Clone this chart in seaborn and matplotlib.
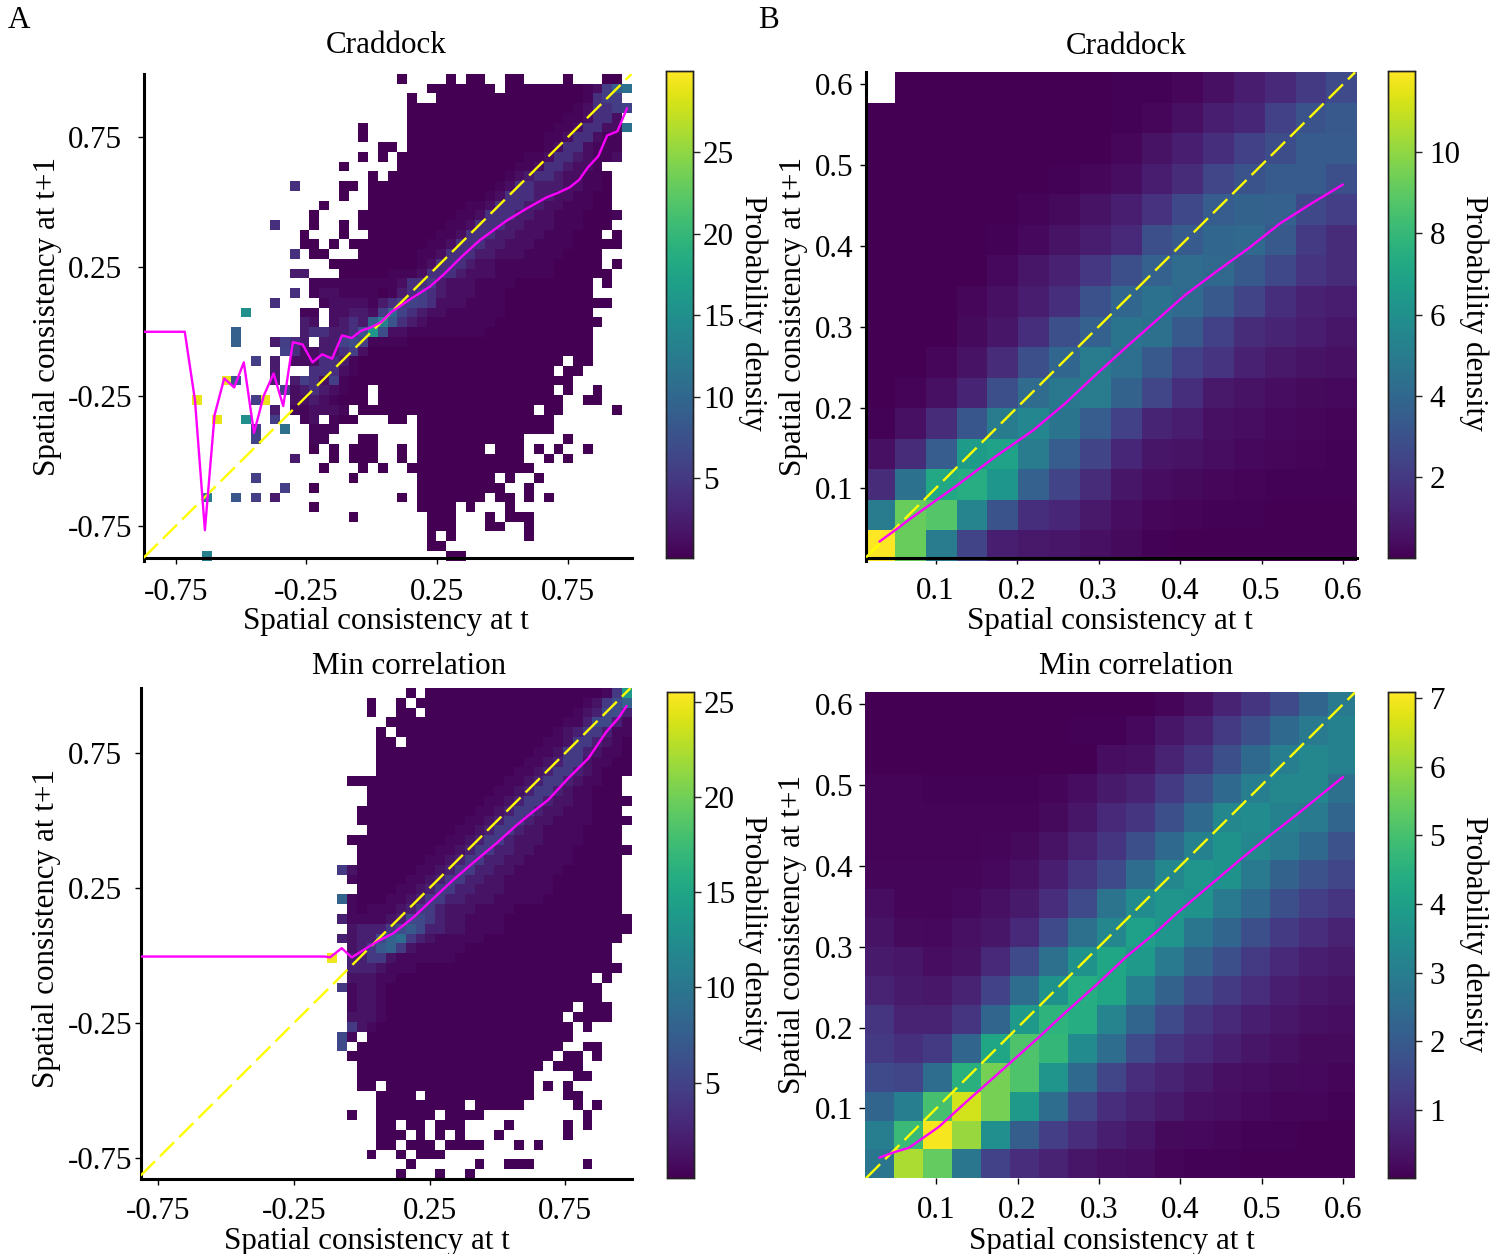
###IMPORTS###
import numpy as np
import seaborn as sns
import matplotlib
matplotlib.use('Agg')
import matplotlib.pyplot as plt

W, H = 1495, 1254

###DATA###
# one char per bin, base 36 density, '.' is an empty bin
craddock_all = [
    '.......... .......... ......0... .0.00..00. ...0...00.',
    '.......... .......... .........0 000000.000 000001259b',
    '.......... .......... .......0.. 0000000000 000001455.',
    '.......... .......... .......000 0000000000 0000124456',
    '.......... .......... .......000 0000000000 000112442.',
    '.......... .......... ..0....000 0000000000 001124422b',
    '.......... .......... ..0....000 0000000000 011244211.',
    '.......... .......... ....00.000 0000000000 012442111.',
    '.......... .......... ..0.0.0000 0000000001 124432112.',
    '.......... .......... 0.....0000 0000000011 2443221...',
    '.......... .......... ...0.00000 0000000123 44322110..',
    '.......... .....4.... 00.0000000 0000001244 33322110..',
    '.......... .......... 0..0000000 0000012444 33221100..',
    '.......... ........0. ...0000000 0001124443 32211100..',
    '.......... .......0.. ..00000000 0011244433 221110001.',
    '.......... ...4...0.. 0.00000000 0112444332 22111000..',
    '.......... ......0... 0..0000000 1124443322 2111000.0.',
    '.......... ......00.0 .000000001 1244433222 111100000.',
    '.......... .....4.00. ..00000011 2444332221 1110000...',
    '.......... .........0 0000000012 4443221111 1100000.0.',
    '.......... .....33... 0000011124 4432221111 11000000..',
    '.......... .......111 1111112445 3222111100 000000.0..',
    '.......... .....4.122 1111013454 3222111000 000000....',
    '.......... ...4....12 2221345654 2221111000 00000000..',
    '.......... f.....11.2 23325a6432 2111111000 000000....',
    '.......... ......32.2 3439d84321 1111110000 0000000...',
    '.........9 ......3443 348g722111 1111100000 000000....',
    '.........9 ...3543.33 6751111000 0000000000 000000....',
    '.......... ....642233 4520000000 0000000000 000000....',
    '.......... .5.3.22244 3100000000 0000000000 000.00....',
    '.......... ...3...444 2100000000 0000000000 00.00.....',
    '........t8 ...3.35425 1000000000 0000000000 0000......',
    '.......... ....523432 100.000000 0000000000 00.0..0...',
    '.....t.... .5t..22321 000.000000 0000000000 000..00...',
    '.......... ...3.11222 1.00000000 0000000000 .00.....0.',
    '.......t.. f..5..12.1 00...00.00 0000000000 00........',
    '.......... .5..b..111 ........00 0000000000 00........',
    '.......... .6.....11. ..00....00 000000000. ...0......',
    '.......... .......0.0 .000..0.00 00000.000. 0.0..0....',
    '.......... .....3...0 .000..0.00 000000000. .0.0......',
    '.......... ........0. ..0.0..000 0000000000 ..........',
    '.......... .5........ .0......00 000000.0.. 0.........',
    '.......... ....5..0.. ........00 0000000..0 ..........',
    '......d..8 .5.3...... ......0.00 00000.00.0 .0........',
    '.......... .......0.. ........00 00.0...0.. ..........',
    '.......... .......... .0.......0 00...0.000 ..........',
    '.......... .......... .........0 00...00..0 ..........',
    '.......... .......... .........0 .0.......0 ..........',
    '.......... .......... .........0 0......... ..........',
    '......d... .......... .......... .00....... ..........',
]

mincorr_all = [
    '.......... .......... .......0.0 0000000000 000000014e',
    '.......... .......... ...0..0.00 0000000000 0000012468',
    '.......... .......... ...0..00.0 0000000000 0000123563',
    '.......... .......... .....00000 0000000000 0001135531',
    '.......... .......... ....0.0000 0000000000 0012344311',
    '.......... .......... ....00.000 0000000000 0112443210',
    '.......... .......... ....000000 0000000000 1124432110',
    '.......... .......... ....000000 0000000001 1234421100',
    '.......... .......... ....000000 0000000011 2344321000',
    '.......... .......... .000000000 0000000112 344321100.',
    '.......... .......... ...0000000 0000001123 443211000.',
    '.......... .......... ...0000000 0000011234 4322110000',
    '.......... .......... ..00000000 0000112344 322111000.',
    '.......... .......... ..00000000 0001123443 2211110000',
    '.......... .......... ...0000000 0011234432 211110000.',
    '.......... .......... .000000000 0112344322 211110000.',
    '.......... .......... ..00000000 1123443322 1111000000',
    '.......... .......... ..00000001 1234433221 111100000.',
    '.......... .......... 4200000011 2344332211 111000000.',
    '.......... .......... .100000112 3443322111 110000000.',
    '.......... .......... ..00001123 4433222111 110000000.',
    '.......... .......... 8100011234 4332221111 100000000.',
    '.......... .......... .101112344 3222111100 000000000.',
    '.......... .......... 3111123554 3221111000 0000000000',
    '.......... .......... .233346753 3221111000 0000000000',
    '.......... .......... 3233589432 1111100000 000000000.',
    '.......... .......... .234784211 1110000000 00000000..',
    '.......... .........p .334421111 1100000000 00000000..',
    '.......... .......... .333211100 0000000000 000000000.',
    '.......... .......... .222110000 0000000000 000000.0..',
    '.......... .......... 4122100000 0000000000 0000000...',
    '.......... .......... .122100000 0000000000 0000000...',
    '.......... .......... .122100000 0000000000 0000.000..',
    '.......... .......... .222100000 0000000000 000.0000..',
    '.......... .......... .421000000 0000000000 0000.0....',
    '.......... .......... 51.0000000 0000000000 0000......',
    '.......... .......... 5.00000000 0000000000 000..00...',
    '.......... .......... .000000000 0000000000 00.00.0...',
    '.......... .......... ..00000000 0000000000 0.000.....',
    '.......... .......... ..00000000 0000000000 ....00....',
    '.......... .......... ..00.00000 0000000000 .0.0......',
    '.......... .......... ....0000.0 0000000000 ...00.....',
    '.......... .......... ....000000 000.00000. ....0.0...',
    '.......... .......... .0..000000 .0000..... .....0....',
    '.......... .......... ....00.00. 000....0.. ...0.0....',
    '.......... .......... ....000.0. 0.0...0... ...0......',
    '.......... .......... ....00.000 .0000...0. 0.........',
    '.......... .......... ...0..0.00 0......... ..........',
    '.......... .......... .......0.. ....0..000 .....0....',
    '.......... .......... ......0... 0..0...... ..........',
]

# low codes are not linear, the background is very flat
low_levels = {'0': 0.12, '1': 0.5, '2': 1.2, '3': 2.2, '4': 4.2, '5': 5.5}

craddock_zoom = [
    [np.nan, .05, .05, .05, .05, .05, .05, .05, .1, .1, .2, .5, .9, 1.4, 2.0, 2.7],
    [.03, .03, .03, .03, .03, .03, .05, .05, .1, .2, .5, 1.0, 1.3, 2.3, 3.1, 3.3],
    [.03, .03, .03, .03, .03, .03, .05, .05, .2, .6, 1.0, 1.6, 2.3, 2.8, 3.4, 3.4],
    [.03, .03, .03, .03, .03, .05, .1, .2, .4, .9, 1.5, 2.5, 3.1, 3.4, 3.4, 2.9],
    [.03, .03, .03, .03, .05, .15, .3, .6, 1.0, 1.7, 2.6, 3.5, 3.8, 3.7, 2.6, 2.2],
    [.03, .03, .03, .05, .1, .25, .6, .9, 1.4, 2.9, 3.4, 3.9, 4.0, 3.3, 2.0, 1.5],
    [.03, .03, .03, .05, .25, .7, 1.1, 1.9, 2.9, 3.7, 4.2, 4.0, 3.3, 2.6, 1.8, 1.5],
    [.03, .03, .05, .2, .5, .9, 1.6, 3.0, 3.9, 4.5, 4.1, 3.3, 2.4, 1.6, 1.1, .9],
    [.03, .03, .05, .3, .7, 1.6, 2.9, 3.7, 4.6, 4.4, 3.3, 2.3, 1.5, 1.2, .9, .7],
    [.03, .05, .2, .6, 1.5, 2.9, 3.9, 5.0, 4.3, 3.3, 2.3, 1.8, 1.1, .8, .6, .5],
    [.03, .15, .5, 1.2, 2.9, 4.2, 4.8, 5.0, 3.8, 2.5, 1.6, .8, .6, .4, .3, .25],
    [.1, .5, 1.5, 3.2, 5.0, 5.5, 4.6, 3.5, 2.3, 1.2, .9, .5, .4, .25, .2, .15],
    [.5, 1.5, 3.5, 6.6, 6.9, 5.0, 3.5, 2.4, 1.3, .7, .6, .4, .25, .2, .15, .1],
    [1.5, 4.5, 7.2, 7.5, 6.3, 3.7, 2.4, 1.5, .7, .4, .3, .2, .15, .1, .1, .1],
    [5.0, 9.2, 8.8, 5.4, 3.1, 1.6, 1.3, .8, .4, .2, .15, .1, .08, .05, .05, .05],
    [12.0, 9.2, 5.0, 2.4, 1.0, .8, .7, .5, .3, .1, .05, .05, .05, .05, .05, .05],
]

mincorr_zoom = [
    [.03, .03, .03, .03, .03, .03, .03, .03, .03, .03, .1, .3, .7, 1.1, 1.6, 2.3, 2.9],
    [.03, .03, .03, .03, .03, .03, .03, .04, .05, .15, .4, .7, 1.2, 1.7, 2.4, 2.9, 3.1],
    [.03, .03, .03, .03, .03, .03, .03, .03, .25, .3, .7, 1.1, 1.7, 2.4, 3.0, 3.3, 3.1],
    [.08, .08, .05, .05, .05, .05, .1, .25, .5, .7, 1.2, 1.8, 2.4, 3.0, 3.3, 3.3, 2.6],
    [.07, .07, .07, .07, .07, .08, .2, .4, .8, 1.1, 1.7, 2.4, 3.3, 3.4, 3.1, 2.9, 2.3],
    [.08, .08, .08, .08, .1, .2, .35, .7, 1.1, 1.7, 2.4, 3.1, 3.6, 3.3, 2.9, 2.4, 1.8],
    [.1, .1, .1, .1, .15, .3, .6, 1.1, 1.6, 2.5, 3.3, 3.7, 3.6, 2.9, 2.2, 1.8, 1.5],
    [.25, .1, .1, .15, .3, .5, .9, 1.6, 2.7, 3.4, 3.7, 3.6, 2.9, 2.4, 1.7, 1.3, 1.1],
    [.35, .2, .15, .3, .4, .8, 1.6, 2.6, 3.3, 4.0, 3.7, 2.8, 2.3, 1.7, 1.2, .9, .7],
    [.5, .4, .25, .35, .8, 1.6, 2.6, 3.6, 4.2, 3.8, 2.9, 2.2, 1.7, 1.2, .8, .6, .5],
    [.7, .5, .45, .7, 1.4, 2.5, 3.6, 4.4, 4.2, 3.0, 2.2, 1.6, 1.2, .9, .6, .45, .35],
    [1.1, .7, .7, 1.1, 2.3, 3.8, 4.6, 4.4, 3.2, 2.3, 1.6, 1.1, .8, .6, .45, .3, .25],
    [1.2, 1.0, 1.2, 2.3, 4.2, 5.1, 4.7, 3.4, 2.5, 1.6, 1.1, .8, .6, .4, .3, .2, .2],
    [1.6, 1.5, 2.5, 4.5, 5.6, 5.1, 3.7, 2.4, 1.5, .9, .7, .5, .3, .25, .2, .15, .1],
    [2.3, 3.0, 5.0, 6.6, 5.6, 3.8, 2.5, 1.5, .9, .7, .5, .3, .25, .15, .1, .1, .05],
    [3.0, 4.8, 7.0, 6.0, 3.5, 2.1, 1.3, .9, .6, .4, .2, .15, .1, .05, .05, .03, .03],
    [2.8, 6.2, 5.4, 2.8, 1.4, .9, .7, .4, .3, .25, .1, .05, .05, .03, .03, .03, .03],
]

# conditional mean lines
line_a1_x = [-.875, -.716, -.677, -.639, -.602, -.565, -.527, -.490, -.451, -.414, -.376, -.339, -.302, -.265, -.227, -.190, -.152, -.114, -.077, -.041, -.003, .034, .076, .152, .222, .273, .344, .414, .516, .593, .669, .714, .758, .793, .829, .867, .901, .940, .977]
line_a1_y = [-.001, -.001, -.265, -.767, -.323, -.181, -.216, -.119, -.391, -.249, -.162, -.288, -.041, -.050, -.119, -.088, -.105, -.015, -.025, .003, .016, .035, .076, .128, .173, .218, .289, .353, .428, .475, .518, .536, .557, .585, .636, .677, .757, .773, .862]
line_a2_x = [-.815, -.136, -.117, -.074, -.037, .036, .067, .116, .190, .251, .337, .423, .497, .571, .632, .687, .761, .835, .902, .945, .976]
line_a2_y = [-.004, -.004, -.007, .027, -.007, .039, .057, .082, .141, .199, .280, .354, .416, .483, .533, .576, .656, .730, .829, .878, .924]
line_b1_x = [.031, .054, .067, .124, .173, .220, .259, .296, .332, .369, .406, .447, .484, .523, .562, .600]
line_b1_y = [.034, .051, .061, .102, .139, .172, .205, .240, .273, .306, .339, .370, .397, .428, .453, .476]
line_b2_x = [.030, .049, .066, .103, .139, .176, .225, .258, .297, .334, .369, .393, .434, .475, .508, .545, .600]
line_b2_y = [.039, .046, .051, .077, .110, .143, .187, .218, .253, .288, .317, .339, .374, .409, .436, .465, .510]

wide_ticks = [-0.75, -0.25, 0.25, 0.75]
wide_labels = ['-0.75', '-0.25', '0.25', '0.75']
zoom_ticks = [0.1, 0.2, 0.3, 0.4, 0.5, 0.6]
zoom_labels = ['0.1', '0.2', '0.3', '0.4', '0.5', '0.6']


def decode(rows):
    out = []
    for row in rows:
        vals = []
        for ch in row.replace(' ', ''):
            if ch == '.':
                vals.append(np.nan)
            elif ch in low_levels:
                vals.append(low_levels[ch])
            else:
                vals.append(float(int(ch, 36)))
        out.append(vals)
    return np.array(out)


def box(x0, y0, x1, y1):
    return [x0 / W, 1 - y1 / H, (x1 - x0) / W, (y1 - y0) / H]


###SETUP###
sns.set_theme(style='white')
plt.rcParams['font.family'] = ['Liberation Serif', 'DejaVu Serif']
FS = 22.4

fig = plt.figure(figsize=(W / 100, H / 100), dpi=100)


def panel(rect, crect, data, lims, view, line_x, line_y, ticks, labels, vmin, vmax, cticks,
          title, title_xy, xlab_xy, ylab_xy, clab_y, ytext_left, xpad, cpad, spines=True, spine_off=0.0):
    ax = fig.add_axes(box(*rect))
    cax = fig.add_axes(box(*crect))
    sns.heatmap(data, ax=ax, cbar_ax=cax, cmap='viridis', vmin=vmin, vmax=vmax,
                cbar_kws={'ticks': cticks}, xticklabels=False, yticklabels=False)
    ax.set_xlim(view[0], view[1])
    ax.set_ylim(view[2], view[3])

    xlo, xhi, ylo, yhi = lims

    def cx(v):
        return view[0] + (np.array(v) - xlo) / (xhi - xlo) * (view[1] - view[0])

    def cy(v):
        return view[2] + (np.array(v) - ylo) / (yhi - ylo) * (view[3] - view[2])

    def ax_x(px):
        return (px - rect[0]) / (rect[2] - rect[0])

    def ax_y(py):
        return (rect[3] - py) / (rect[3] - rect[1])

    lo = max(xlo, ylo)
    hi = min(xhi, yhi)
    ax.plot(cx([lo, hi]), cy([lo, hi]), color='#ffff00', lw=1.7, dashes=(8.5, 3), zorder=3)
    ax.plot(cx(line_x), cy(line_y), color='#ff00ff', lw=1.7, zorder=4)

    ax.set_xticks(cx(ticks))
    ax.set_xticklabels(labels, rotation=0)
    ax.set_yticks(cy(ticks))
    ax.set_yticklabels(labels, rotation=0, ha='left')
    ax.tick_params(axis='x', bottom=True, length=4, width=1, color='black',
                   labelsize=FS, pad=xpad, labelcolor='black')
    ax.tick_params(axis='y', left=True, length=4, width=1, color='black', labelsize=FS,
                   pad=(rect[0] - ytext_left) * 0.72 - 4, labelcolor='black')

    for s in ['top', 'right']:
        ax.spines[s].set_visible(False)
    for s in ['left', 'bottom']:
        ax.spines[s].set_visible(spines)
        ax.spines[s].set_color('black')
        ax.spines[s].set_linewidth(2.2)
    if spines:
        ax.spines['bottom'].set_position(('axes', spine_off))

    ax.set_title(title, x=ax_x(title_xy[0]), y=ax_y(title_xy[1]), pad=0, va='center',
                 fontsize=FS, color='black')
    ax.set_xlabel('Spatial consistency at t', fontsize=FS, color='black', va='center')
    ax.xaxis.set_label_coords(ax_x(xlab_xy[0]), ax_y(xlab_xy[1]))
    ax.set_ylabel('Spatial consistency at t+1', fontsize=FS, color='black', va='center')
    ax.yaxis.set_label_coords(ax_x(ylab_xy[0]), ax_y(ylab_xy[1]))

    cax.tick_params(length=4.7, width=1, color='#222222', right=True, labelsize=FS, pad=cpad, labelcolor='black')
    cax.set_ylabel('Probability density', rotation=270, fontsize=FS, color='black', va='center')
    cax.yaxis.set_label_coords((clab_y[0] - crect[0]) / (crect[2] - crect[0]),
                               (crect[3] - clab_y[1]) / (crect[3] - crect[1]))
    for s in cax.spines.values():
        s.set_visible(True)
        s.set_color('#222222')
        s.set_linewidth(1.0)
    return ax


###GRAPHICS###
panel((143.5, 74, 631.7, 560.7), (666, 71, 693, 558), decode(craddock_all),
      (-.874, .995, -.885, .9944), (0, 50, 50, 0), line_a1_x, line_a1_y, wide_ticks, wide_labels,
      0.08, 30, [5, 10, 15, 20, 25], 'Craddock', (386, 46), (386, 621), (48, 317), (753, 313), 68, 10, 2.5,
      spine_off=0.005)
panel((866, 72.3, 1357.3, 560.7), (1388, 71, 1415, 558), np.array(craddock_zoom),
      (.0145, .6176, .0104, .6149), (0.06, 16, 16, 0), line_b1_x, line_b1_y, zoom_ticks, zoom_labels,
      0.01, 12, [2, 4, 6, 8, 10], 'Craddock', (1126, 46), (1110, 621), (793, 316), (1474, 313), 815, 9.5, 5.8,
      spine_off=0.006)
panel((140.7, 688, 631.7, 1179), (667, 692, 694, 1178), decode(mincorr_all),
      (-.815, .995, -.828, .9907), (0, 50, 50, 0), line_a2_x, line_a2_y, wide_ticks, wide_labels,
      0, 25.5, [5, 10, 15, 20, 25], 'Min correlation', (409, 667), (367, 1241), (47, 928), (753, 933), 68, 9, 2.5)
panel((865, 691.7, 1355, 1178.3), (1388, 692, 1415, 1178), np.array(mincorr_zoom),
      (.0123, .6147, .0134, .6156), (0, 16.92, 17, 0.16), line_b2_x, line_b2_y, zoom_ticks, zoom_labels,
      0.01, 7.09, [1, 2, 3, 4, 5, 6, 7], 'Min correlation', (1136, 666), (1112, 1241), (793, 934), (1474, 934), 815, 9, 5.8,
      spines=False)

fig.text(8 / W, 1 - 20 / H, 'A', fontsize=FS, va='center', ha='left', color='black')
fig.text(758 / W, 1 - 20 / H, 'B', fontsize=FS, va='center', ha='left', color='black')

fig.savefig('out.png', dpi=100)
